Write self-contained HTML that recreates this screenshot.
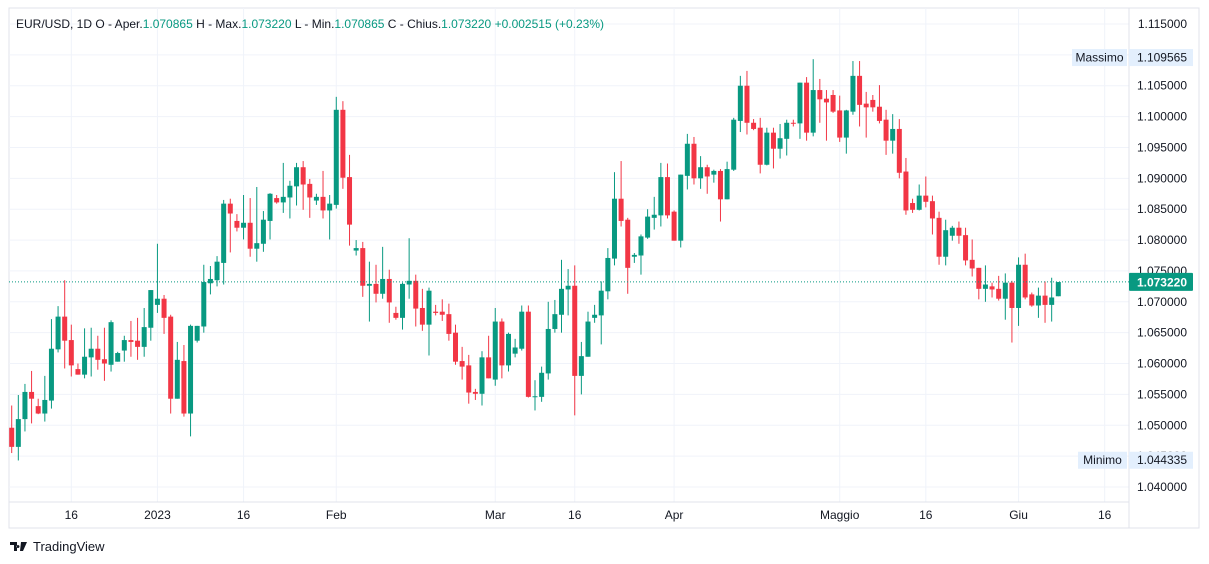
<!DOCTYPE html>
<html><head><meta charset="utf-8">
<style>
html,body{margin:0;padding:0;background:#fff;width:1209px;height:564px;overflow:hidden;font-family:"Liberation Sans",sans-serif}
svg{position:absolute;left:0;top:0}
</style></head>
<body>
<svg id="chart" width="1209" height="564" viewBox="0 0 1209 564">
  <rect x="9" y="8" width="1190" height="520" fill="#fff" stroke="#e0e3eb"/>
  <g id="grid"></g>
  <g id="candles"></g>
  <line x1="1129" y1="8" x2="1129" y2="528" stroke="#e0e3eb"/>
  <line x1="9" y1="502" x2="1129" y2="502" stroke="#e0e3eb"/>
  <g id="yticks"></g>
  <g id="xticks"></g>
  <g id="overlay"></g>
  <text x="16" y="28" font-size="12" fill="#131722">EUR/USD, 1D  O - Aper.<tspan fill="#089981">1.070865</tspan>  H - Max.<tspan fill="#089981">1.073220</tspan>  L - Min.<tspan fill="#089981">1.070865</tspan>  C - Chius.<tspan fill="#089981">1.073220</tspan>  <tspan fill="#089981">+0.002515 (+0.23%)</tspan></text>
  <g>
    <path d="M10 542h7v9h-3v-6h-4z M18 545a1.5 1.5 0 1 0 0.01 0z M21 542h6l-4 9h-3z" fill="#131722"/>
    <text x="33" y="551" font-size="13" fill="#131722">TradingView</text>
  </g>
</svg>
<script>
const opens=[1.0496,1.0465,1.0510,1.0554,1.0531,1.0519,1.0540,1.0623,1.0676,1.0638,1.0591,1.0582,1.0610,1.0624,1.0607,1.0598,1.0603,1.0621,1.0638,1.0637,1.0627,1.0658,1.0695,1.0705,1.0676,1.0543,1.0604,1.0519,1.0637,1.0660,1.0730,1.0735,1.0763,1.0859,1.0831,1.0820,1.0828,1.0786,1.0794,1.0831,1.0868,1.0861,1.0869,1.0887,1.0918,1.0891,1.0864,1.0870,1.0848,1.0857,1.1011,1.0902,1.0783,1.0787,1.0726,1.0729,1.0713,1.0737,1.0682,1.0674,1.0728,1.0734,1.0690,1.0663,1.0684,1.0684,1.0680,1.0650,1.0604,1.0597,1.0554,1.0551,1.0610,1.0574,1.0668,1.0597,1.0616,1.0624,1.0684,1.0546,1.0546,1.0584,1.0656,1.0679,1.0720,1.0726,1.0580,1.0611,1.0674,1.0678,1.0717,1.0770,1.0867,1.0833,1.0773,1.0775,1.0804,1.0836,1.0840,1.0902,1.0846,1.0799,1.0904,1.0956,1.0900,1.0918,1.0906,1.0912,1.0866,1.0914,1.0993,1.1050,1.0990,1.0982,1.0922,1.0974,1.0948,1.0964,1.0990,1.0989,1.1055,1.0974,1.1043,1.1029,1.1035,1.1010,1.0966,1.1008,1.1066,1.1021,1.1027,1.1016,1.0995,1.0961,1.0980,1.0911,1.0860,1.0849,1.0872,1.0863,1.0836,1.0773,1.0807,1.0820,1.0808,1.0768,1.0755,1.0721,1.0725,1.0721,1.0705,1.0731,1.0690,1.0760,1.0712,1.0694,1.0710,1.0695,1.0709];
const highs=[1.0532,1.0549,1.0567,1.0588,1.0543,1.0580,1.0672,1.0693,1.0735,1.0663,1.0600,1.0657,1.0658,1.0645,1.0658,1.0670,1.0619,1.0645,1.0669,1.0674,1.0690,1.0719,1.0794,1.0711,1.0679,1.0635,1.0630,1.0663,1.0661,1.0760,1.0758,1.0774,1.0865,1.0867,1.0842,1.0873,1.0868,1.0886,1.0847,1.0876,1.0873,1.0925,1.0896,1.0925,1.0928,1.0899,1.0875,1.0912,1.0873,1.1032,1.1025,1.0938,1.0800,1.0797,1.0765,1.0760,1.0789,1.0752,1.0692,1.0731,1.0803,1.0744,1.0721,1.0723,1.0695,1.0704,1.0697,1.0663,1.0627,1.0614,1.0559,1.0620,1.0645,1.0690,1.0673,1.0650,1.0640,1.0694,1.0694,1.0573,1.0595,1.0700,1.0703,1.0768,1.0753,1.0759,1.0635,1.0684,1.0695,1.0733,1.0787,1.0910,1.0928,1.0836,1.0779,1.0809,1.0850,1.0870,1.0925,1.0924,1.0848,1.0906,1.0972,1.0967,1.0936,1.0922,1.0914,1.0915,1.0927,1.0998,1.1066,1.1074,1.0996,1.0998,1.0982,1.0982,1.0988,1.0995,1.0995,1.1055,1.1064,1.1093,1.1061,1.1043,1.1043,1.1034,1.1011,1.1090,1.1090,1.1040,1.1035,1.1051,1.1011,1.1004,1.0996,1.0933,1.0867,1.0890,1.0903,1.0872,1.0846,1.0833,1.0823,1.0830,1.0820,1.0801,1.0755,1.0759,1.0731,1.0742,1.0746,1.0734,1.0772,1.0778,1.0715,1.0723,1.0733,1.0739,1.0732];
const lows=[1.0455,1.0443,1.0490,1.0503,1.0518,1.0506,1.0527,1.0618,1.0592,1.0579,1.0582,1.0576,1.0579,1.0590,1.0572,1.0587,1.0603,1.0603,1.0611,1.0606,1.0611,1.0637,1.0682,1.0648,1.0519,1.0543,1.0514,1.0482,1.0634,1.0650,1.0712,1.0725,1.0728,1.0780,1.0814,1.0801,1.0773,1.0765,1.0781,1.0801,1.0859,1.0844,1.0835,1.0856,1.0849,1.0836,1.0857,1.0835,1.0801,1.0851,1.0883,1.0791,1.0775,1.0708,1.0668,1.0699,1.0705,1.0666,1.0671,1.0655,1.0705,1.0660,1.0653,1.0613,1.0678,1.0669,1.0637,1.0598,1.0574,1.0535,1.0541,1.0532,1.0576,1.0564,1.0576,1.0587,1.0610,1.0621,1.0545,1.0524,1.0538,1.0574,1.0650,1.0650,1.0678,1.0516,1.0550,1.0611,1.0666,1.0631,1.0704,1.0759,1.0822,1.0713,1.0763,1.0744,1.0802,1.0817,1.0822,1.0835,1.0799,1.0788,1.0882,1.0890,1.0883,1.0875,1.0893,1.0830,1.0866,1.0912,1.0975,1.0971,1.0978,1.0908,1.0921,1.0916,1.0932,1.0937,1.0984,1.0964,1.0961,1.0968,1.0990,1.0961,1.1006,1.0959,1.0940,1.1003,1.0984,1.0966,1.1008,1.0989,1.0938,1.0940,1.0900,1.0841,1.0844,1.0848,1.0853,1.0809,1.0760,1.0759,1.0799,1.0794,1.0759,1.0741,1.0704,1.0700,1.0707,1.0702,1.0671,1.0634,1.0661,1.0704,1.0692,1.0674,1.0666,1.0668,1.0709];
const closes=[1.0465,1.0510,1.0554,1.0543,1.0519,1.0541,1.0624,1.0676,1.0637,1.0597,1.0582,1.0611,1.0624,1.0606,1.0600,1.0667,1.0617,1.0638,1.0635,1.0627,1.0659,1.0719,1.0705,1.0674,1.0543,1.0606,1.0519,1.0661,1.0661,1.0732,1.0737,1.0765,1.0859,1.0843,1.0820,1.0828,1.0786,1.0795,1.0833,1.0875,1.0861,1.0870,1.0888,1.0918,1.0890,1.0869,1.0870,1.0848,1.0859,1.1011,1.0901,1.0825,1.0787,1.0726,1.0729,1.0713,1.0737,1.0699,1.0674,1.0729,1.0734,1.0689,1.0663,1.0718,1.0682,1.0679,1.0648,1.0603,1.0595,1.0553,1.0551,1.0610,1.0576,1.0668,1.0597,1.0648,1.0626,1.0684,1.0546,1.0547,1.0585,1.0656,1.0680,1.0721,1.0726,1.0580,1.0612,1.0668,1.0679,1.0718,1.0771,1.0867,1.0831,1.0755,1.0776,1.0806,1.0838,1.0841,1.0902,1.0840,1.0799,1.0906,1.0956,1.0900,1.0918,1.0903,1.0912,1.0866,1.0915,1.0995,1.1050,1.0990,1.0980,1.0922,1.0974,1.0948,1.0965,1.0990,1.0989,1.1055,1.0974,1.1043,1.1028,1.1023,1.1008,1.0966,1.1010,1.1066,1.1019,1.1015,1.1015,1.0993,1.0961,1.0980,1.0909,1.0848,1.0849,1.0872,1.0862,1.0835,1.0773,1.0816,1.0820,1.0807,1.0767,1.0754,1.0721,1.0728,1.0720,1.0705,1.0731,1.0690,1.0760,1.0707,1.0694,1.0710,1.0695,1.0707,1.0732];
const priceTicks=[1.115,1.110,1.105,1.100,1.095,1.090,1.085,1.080,1.075,1.070,1.065,1.060,1.055,1.050,1.045,1.040];
const timeLabels=["16","2023","16","Feb","Mar","16","Apr","Maggio","16","Giu","16"];
const timeLabelIndex=[9,22,35,49,73,85,100,125,138,152,165];
const lastPrice=1.07322, maxPrice=1.109565, minPrice=1.044335;

const NS="http://www.w3.org/2000/svg";
const pMax=1.115, pMin=1.040, yTop=24, yBot=487;
function y(p){return yTop+(pMax-p)/(pMax-pMin)*(yBot-yTop);}
function x(i){return 11.7+i*6.624;}
function mk(tag,attrs,parent){const e=document.createElementNS(NS,tag);for(const k in attrs)e.setAttribute(k,attrs[k]);parent.appendChild(e);return e;}
const grid=document.getElementById('grid'), cg=document.getElementById('candles'), yt=document.getElementById('yticks'), xt=document.getElementById('xticks'), ov=document.getElementById('overlay');

priceTicks.forEach(p=>{
  const l=mk('line',{x1:9,x2:1129,y1:y(p),y2:y(p),stroke:'#f0f3fa'},grid);
  
  
  const t=mk('text',{x:1187,y:y(p)+4,'font-size':12,'text-anchor':'end',fill:'#131722'},yt);
  t.textContent=p.toFixed(6);
  
  
});
timeLabels.forEach((s,k)=>{
  const xx=x(timeLabelIndex[k]);
  const l=mk('line',{x1:xx,x2:xx,y1:8,y2:502,stroke:'#f0f3fa'},grid);
  
  
  const t=mk('text',{x:xx,y:519,'font-size':12,'text-anchor':'middle',fill:'#131722'},xt);
  t.textContent=s;
  
  
});
for(let i=0;i<opens.length;i++){
  const up=closes[i]>=opens[i], col=up?'#089981':'#f23645', xx=x(i);
  const w=mk('line',{x1:xx,x2:xx,y1:y(highs[i]),y2:y(lows[i]),stroke:col,'stroke-width':1},cg);
  
  
  const top=y(Math.max(opens[i],closes[i])), bot=y(Math.min(opens[i],closes[i]));
  const b=mk('rect',{x:xx-2.5,y:top,width:5,height:Math.max(1,bot-top),fill:col},cg);
  
  
}
const ly=y(lastPrice);
const dl=mk('line',{x1:9,x2:1129,y1:ly,y2:ly,stroke:'#089981','stroke-dasharray':'1 2'},ov);


const lb=mk('rect',{x:1129,y:ly-9,width:64,height:18,fill:'#089981',rx:1},ov);


const lt=mk('text',{x:1187,y:ly+4.5,'font-size':12,'font-weight':'bold','text-anchor':'end',fill:'#fff'},ov);
lt.textContent=lastPrice.toFixed(6);


[[maxPrice,'Massimo',1072],[minPrice,'Minimo',1078]].forEach(([p,name,bx])=>{
  const yy=y(p);
  const r1=mk('rect',{x:bx,y:yy-8.5,width:1127-bx,height:17,fill:'#e3effd'},ov);
  
  
  const t1=mk('text',{x:(bx+1127)/2,y:yy+4,'font-size':12,'text-anchor':'middle',fill:'#131722'},ov);
  t1.textContent=name;
  
  
  const r2=mk('rect',{x:1129,y:yy-8.5,width:64,height:17,fill:'#e3effd'},ov);
  
  
  const t2=mk('text',{x:1187,y:yy+4,'font-size':12,'text-anchor':'end',fill:'#131722'},ov);
  t2.textContent=p.toFixed(6);
  
  
});
</script>
</body></html>
